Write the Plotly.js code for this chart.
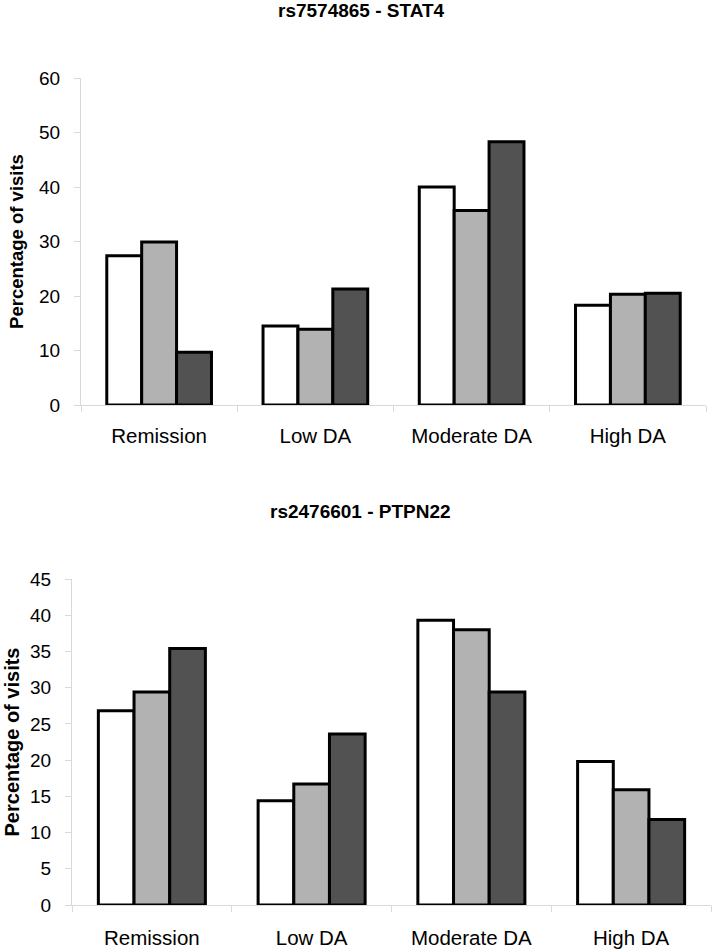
<!DOCTYPE html>
<html>
<head>
<meta charset="utf-8">
<script src="https://cdn.plot.ly/plotly-3.0.1.min.js"></script>
<style>html,body{margin:0;padding:0;background:#fff;}#chart{width:716px;height:952px;}</style>
</head>
<body>
<div id="chart"></div>
<script>
const categories = ["Remission", "Low DA", "Moderate DA", "High DA"];

// rs7574865 - STAT4
const stat4Series1 = [27.4, 14.5, 40.0, 18.3];
const stat4Series2 = [29.9, 13.9, 35.7, 20.3];
const stat4Series3 = [9.7, 21.3, 48.3, 20.5];

// rs2476601 - PTPN22
const ptpnSeries1 = [26.8, 14.4, 39.3, 19.8];
const ptpnSeries2 = [29.4, 16.7, 38.0, 15.9];
const ptpnSeries3 = [35.4, 23.6, 29.4, 11.8];

const titleTop = "rs7574865 - STAT4";
const titleBottom = "rs2476601 - PTPN22";
const yTitle = "Percentage of visits";

const fills = ["#ffffff", "#b2b2b2", "#525252"];
const edge = {color: "#000000", width: 3};

function bar(y, i, xa, ya) {
  return {type: "bar", x: categories, y: y, xaxis: xa, yaxis: ya,
    marker: {color: fills[i], line: edge}, showlegend: false, hoverinfo: "y"};
}

const data = [
  bar(stat4Series1, 0, "x", "y"), bar(stat4Series2, 1, "x", "y"), bar(stat4Series3, 2, "x", "y"),
  bar(ptpnSeries1, 0, "x2", "y2"), bar(ptpnSeries2, 1, "x2", "y2"), bar(ptpnSeries3, 2, "x2", "y2")
];

const W = 716, H = 952;
const font = "Liberation Sans, Arial, sans-serif";
const axisGrey = "#d9d9d9";

function xAxis(x0, x1, anchor, standoff) {
  return {domain: [x0 / W, x1 / W], anchor: anchor, type: "category",
    showline: true, linecolor: axisGrey, linewidth: 1,
    ticks: "outside", tickson: "boundaries", ticklen: 6, tickcolor: axisGrey,
    showgrid: false, zeroline: false, automargin: false,
    tickfont: {family: font, size: 20.5, color: "#000"}, ticklabelstandoff: standoff, fixedrange: true};
}
function yAxis(yTop, yBot, anchor, max, dtick, tsize, standoff) {
  return {domain: [1 - yBot / H, 1 - yTop / H], anchor: anchor, range: [0, max], dtick: dtick,
    showline: true, linecolor: axisGrey, linewidth: 1,
    ticks: "outside", ticklen: 6, tickcolor: axisGrey,
    showgrid: false, zeroline: false, automargin: false,
    tickfont: {family: font, size: 19, color: "#000"}, ticklabelstandoff: 10,
    title: {text: yTitle, font: {family: font, size: tsize, color: "#000", weight: "bold"}, standoff: standoff},
    fixedrange: true};
}

const layout = {
  width: W, height: H,
  margin: {l: 0, r: 0, t: 0, b: 0},
  paper_bgcolor: "#ffffff", plot_bgcolor: "#ffffff",
  barmode: "group", bargap: 0.33, bargroupgap: 0,
  xaxis: xAxis(81, 706, "y", 12),
  yaxis: yAxis(78, 405, "x", 60, 10, 18.5, 10),
  xaxis2: xAxis(72, 711, "y2", 14),
  yaxis2: yAxis(579, 905, "x2", 45, 5, 20, 4.5),
  annotations: [
    {text: "<b>" + titleTop + "</b>", xref: "paper", yref: "paper", x: 361 / W, y: 1 - 11 / H,
     xanchor: "center", yanchor: "middle", showarrow: false, font: {family: font, size: 19, color: "#000"}},
    {text: "<b>" + titleBottom + "</b>", xref: "paper", yref: "paper", x: 360 / W, y: 1 - 511 / H,
     xanchor: "center", yanchor: "middle", showarrow: false, font: {family: font, size: 19, color: "#000"}}
  ]
};

Plotly.newPlot("chart", data, layout, {displayModeBar: false, staticPlot: true});
</script>
</body>
</html>
